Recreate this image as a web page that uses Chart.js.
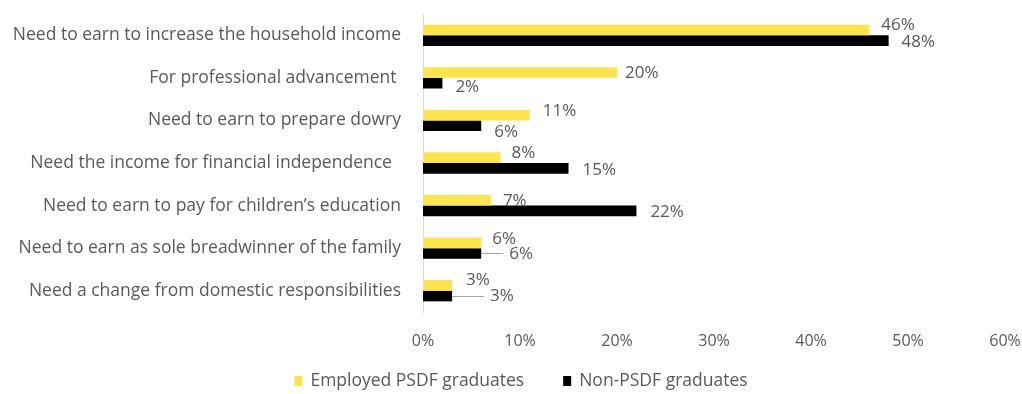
<!DOCTYPE html>
<html>
<head>
<meta charset="utf-8">
<script src="https://cdn.jsdelivr.net/npm/chart.js@4"></script>
<style>
  html, body { margin: 0; padding: 0; background: #fff; }
  #wrap { width: 1022px; height: 394px; position: relative; }
</style>
</head>
<body>
<div id="wrap"><canvas id="myChart"></canvas></div>
<script>
const categories = [
    'Need to earn to increase the household income',
    'For professional advancement ',
    'Need to earn to prepare dowry',
    'Need the income for financial independence  ',
    'Need to earn to pay for children\u2019s education',
    'Need to earn as sole breadwinner of the family',
    'Need a change from domestic responsibilities'
];
const employedPSDF = [46, 20, 11, 8, 7, 6, 3];
const nonPSDF = [48, 2, 6, 15, 22, 6, 3];
const xTicks = [0, 10, 20, 30, 40, 50, 60];

const FONT = '"Open Sans"';
const GREY_TEXT = '#595959';

// label nudges (px from bar end / bar centre), leader = draw a connector line
const labelNudge = [
    [{dx: 12, dy: -5}, {dx: 8, dy: 1}, {dx: 13, dy: -4}, {dx: 11, dy: -5}, {dx: 12, dy: 1}, {dx: 11, dy: -4}, {dx: 14, dy: -5}],
    [{dx: 13, dy: 2}, {dx: 13, dy: 4}, {dx: 13, dy: 6}, {dx: 14, dy: 2}, {dx: 14, dy: 1}, {dx: 28, dy: 1, leader: true}, {dx: 38, dy: 0, leader: true}]
];

const valueLabels = {
    id: 'valueLabels',
    afterDatasetsDraw(chart) {
        const ctx = chart.ctx;
        ctx.save();
        ctx.font = '17px ' + FONT;
        ctx.textAlign = 'left';
        ctx.textBaseline = 'middle';
        chart.data.datasets.forEach((ds, di) => {
            chart.getDatasetMeta(di).data.forEach((bar, i) => {
                const n = labelNudge[di][i];
                const x = bar.x + n.dx;
                const y = bar.y + n.dy;
                if (n.leader) {
                    ctx.strokeStyle = '#a6a6a6';
                    ctx.lineWidth = 1;
                    ctx.beginPath();
                    ctx.moveTo(bar.x, Math.round(bar.y) + 0.5);
                    ctx.lineTo(x - 6, Math.round(bar.y) + 0.5);
                    ctx.stroke();
                }
                ctx.fillStyle = GREY_TEXT;
                ctx.fillText(ds.data[i] + '%', x, y);
            });
        });
        ctx.restore();
    }
};

// simple square-marker legend under the axis
const bottomLegend = {
    id: 'bottomLegend',
    afterDraw(chart) {
        const ctx = chart.ctx;
        ctx.save();
        ctx.font = '17.5px ' + FONT;
        ctx.textBaseline = 'middle';
        const box = 8, gapText = 8, gapItem = 39;
        const items = chart.data.datasets.map(ds => ({
            text: ds.label, color: ds.backgroundColor,
            w: box + gapText + ctx.measureText(ds.label).width
        }));
        const total = items.reduce((s, it) => s + it.w, 0) + gapItem * (items.length - 1);
        let x = (chart.width - total) / 2 + 10;
        const y = 381;
        items.forEach(it => {
            ctx.fillStyle = it.color;
            ctx.fillRect(x, y - 5, box, 10);
            ctx.fillStyle = GREY_TEXT;
            ctx.fillText(it.text, x + box + gapText, y);
            x += it.w + gapItem;
        });
        ctx.restore();
    }
};

const ctx = document.getElementById('myChart').getContext('2d');
const myChart = new Chart(ctx, {
    type: 'bar',
    data: {
        labels: categories,
        datasets: [{
            label: 'Employed PSDF graduates',
            data: employedPSDF,
            backgroundColor: '#FFE44F',
            categoryPercentage: 0.5,
            barPercentage: 1
        }, {
            label: 'Non-PSDF graduates',
            data: nonPSDF,
            backgroundColor: '#000000',
            categoryPercentage: 0.5,
            barPercentage: 1
        }]
    },
    options: {
        indexAxis: 'y',
        responsive: true,
        maintainAspectRatio: false,
        animation: false,
        layout: { padding: { top: 14, right: 17, bottom: 40, left: 0 } },
        plugins: {
            legend: { display: false },
            tooltip: { enabled: false }
        },
        scales: {
            x: {
                min: 0,
                max: 60,
                afterBuildTicks: (scale) => { scale.ticks = xTicks.map(v => ({ value: v })); },
                afterFit: (scale) => {
                    scale.height = 42;
                    scale.paddingLeft = 0;
                    scale.paddingRight = 0;
                },
                grid: { display: false, drawTicks: false },
                border: { display: false },
                ticks: {
                    padding: 20,
                    color: GREY_TEXT,
                    font: { family: FONT, size: 16 },
                    callback: (v) => v + '%'
                }
            },
            y: {
                afterFit: (scale) => {
                    scale.width = 423;
                    scale.paddingTop = 0;
                    scale.paddingBottom = 0;
                },
                grid: { display: false, drawTicks: false },
                border: { display: true, color: '#d9d9d9', width: 1 },
                ticks: {
                    padding: 22,
                    color: GREY_TEXT,
                    font: { family: FONT, size: 17.5 }
                }
            }
        }
    },
    plugins: [valueLabels, bottomLegend]
});
</script>
</body>
</html>
